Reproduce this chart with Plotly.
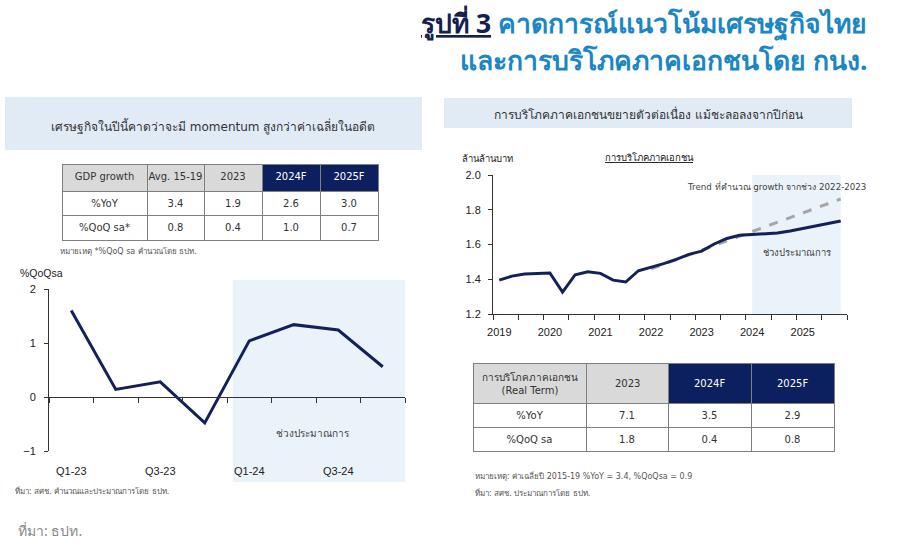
import plotly.graph_objects as go

# ---------------- data ----------------
gdp_quarters = ["Q1-23", "Q2-23", "Q3-23", "Q4-23", "Q1-24", "Q2-24", "Q3-24", "Q4-24"]
gdp_qoq = [1.60, 0.14, 0.28, -0.48, 1.04, 1.34, 1.24, 0.56]
gdp_label_quarters = ["Q1-23", "Q3-23", "Q1-24", "Q3-24"]

pc_quarters = [f"{y}Q{q}" for y in range(2019, 2026) for q in range(1, 5)]
pc_values = [1.395, 1.418, 1.430, 1.432, 1.436, 1.326, 1.426, 1.443,
             1.434, 1.395, 1.384, 1.449, 1.468, 1.490, 1.514, 1.543,
             1.562, 1.603, 1.635, 1.653, 1.658, 1.660, 1.666, 1.678,
             1.693, 1.707, 1.722, 1.735]
trend_quarters = pc_quarters[12:]
trend_values = [1.460, 1.487, 1.513, 1.540, 1.567, 1.594, 1.621, 1.648,
                1.674, 1.700, 1.727, 1.754, 1.781, 1.808, 1.835, 1.862]
year_labels = ["2019", "2020", "2021", "2022", "2023", "2024", "2025"]
forecast_start, forecast_end = "2024Q1", "2025Q4"

NB = "\u00a0"
t1_header = ["GDP" + NB + "growth", "Avg." + NB + "15-19", "2023", "2024F", "2025F"]
t1_rows = ["%YoY", "%QoQ" + NB + "sa*"]
t1_avg = ["3.4", "0.8"]
t1_2023 = ["1.9", "0.4"]
t1_2024 = ["2.6", "1.0"]
t1_2025 = ["3.0", "0.7"]

t2_header = ["การบริโภคภาคเอกชน<br>(Real Term)", "2023", "2024F", "2025F"]
t2_rows = ["%YoY", "%QoQ" + NB + "sa"]
t2_2023 = ["7.1", "1.8"]
t2_2024 = ["3.5", "0.4"]
t2_2025 = ["2.9", "0.8"]

# ---------------- helpers ----------------
W, H = 912, 553
def px(x):
    return x / W
def py(y):
    return (H - y) / H

NAVY = "#13215a"
HDRNAVY = "#0c1f5e"
GRAYHDR = "#d9d9d9"
BLUEBOX = "#e1ebf6"
SHADE = "#eaf2fa"
TXT = "#333333"
FONT = "DejaVu Sans, Tahoma, sans-serif"
AFONT = "Liberation Sans, Arial, sans-serif"
LINEC = "#808080"

fig = go.Figure()

# left chart line
gx = [gdp_quarters.index(q) for q in gdp_quarters]
fig.add_trace(go.Scatter(x=gx, y=gdp_qoq, mode="lines",
                         line=dict(color=NAVY, width=3), xaxis="x", yaxis="y",
                         hoverinfo="skip", showlegend=False))

# right chart
px_idx = [pc_quarters.index(q) for q in pc_quarters]
tx_idx = [pc_quarters.index(q) for q in trend_quarters]
fig.add_trace(go.Scatter(x=tx_idx, y=trend_values, mode="lines",
                         line=dict(color="#a6a6a6", width=3, dash="dash"),
                         xaxis="x2", yaxis="y2", hoverinfo="skip", showlegend=False))
fig.add_trace(go.Scatter(x=px_idx, y=pc_values, mode="lines",
                         line=dict(color=NAVY, width=3), xaxis="x2", yaxis="y2",
                         hoverinfo="skip", showlegend=False))

# tables
t1_x = (62, 378)
t1_cw = [85, 57, 58, 58, 58]
fig.add_trace(go.Table(
    domain=dict(x=[px(t1_x[0]), px(t1_x[1])], y=[py(256), py(164)]),
    columnwidth=t1_cw,
    header=dict(values=t1_header,
                fill_color=[GRAYHDR, GRAYHDR, GRAYHDR, HDRNAVY, HDRNAVY],
                font=dict(family=FONT, size=10, color=[TXT, TXT, TXT, "white", "white"]),
                line=dict(color=LINEC, width=1), height=27, align="center"),
    cells=dict(values=[t1_rows, t1_avg, t1_2023, t1_2024, t1_2025],
               fill_color="white", font=dict(family=FONT, size=10, color=TXT),
               line=dict(color=LINEC, width=1), height=24.5, align="center")))

t2_x = (473, 834)
t2_cw = [113, 82, 83, 83]
t2_top, t2_hh = 363, 40
fig.add_trace(go.Table(
    domain=dict(x=[px(t2_x[0]), px(t2_x[1])], y=[py(465), py(t2_top)]),
    columnwidth=t2_cw,
    header=dict(values=[""] * len(t2_header),
                fill_color=[GRAYHDR, GRAYHDR, HDRNAVY, HDRNAVY],
                line=dict(color=LINEC, width=1), height=t2_hh, align="center"),
    cells=dict(values=[t2_rows, t2_2023, t2_2024, t2_2025],
               fill_color="white", font=dict(family=FONT, size=10, color=TXT),
               line=dict(color=LINEC, width=1), height=24, align="center")))

gtick_vals = [gdp_quarters.index(q) for q in gdp_label_quarters]
ptick_vals = [pc_quarters.index(f"{y}Q1") for y in year_labels]

fig.update_layout(
    width=W, height=H, margin=dict(l=0, r=0, t=0, b=0, pad=0),
    paper_bgcolor="white", plot_bgcolor="rgba(0,0,0,0)",
    font=dict(family=AFONT, color=TXT),
    xaxis=dict(domain=[px(49), px(405)], range=[-0.5, len(gdp_quarters) - 0.5],
               anchor="free", position=py(397), showline=True, linecolor="#333", linewidth=1,
               showgrid=False, zeroline=False, automargin=False,
               tickmode="array", tickvals=gtick_vals, ticktext=gdp_label_quarters,
               ticks="", ticklabelstandoff=64, tickfont=dict(size=11, color="#222", family=AFONT),
               minor=dict(tickmode="array", tickvals=[i - 0.5 for i in range(len(gdp_quarters) + 1)],
                          ticks="outside", ticklen=5, tickcolor="#333", showgrid=False)),
    yaxis=dict(domain=[py(451), py(289)], range=[-1, 2], anchor="x", automargin=False,
               showline=True, linecolor="#333", linewidth=1, showgrid=False, zeroline=False,
               tickvals=[-1, 0, 1, 2], ticks="outside", ticklen=4, tickcolor="#333",
               ticklabelstandoff=6,
               tickfont=dict(size=11, color="#222", family=AFONT)),
    xaxis2=dict(domain=[px(493), px(847)], range=[-0.5, len(pc_quarters) - 0.5], anchor="y2",
                showline=True, linecolor="#333", linewidth=1, showgrid=False, zeroline=False,
                automargin=False,
                tickmode="array", tickvals=ptick_vals, ticktext=year_labels, ticks="",
                ticklabelstandoff=8,
                tickfont=dict(size=11, color="#222", family=AFONT),
                minor=dict(tickmode="array", tickvals=[i - 0.5 for i in range(0, len(pc_quarters) + 1, 2)],
                           ticks="outside", ticklen=5, tickcolor="#333", showgrid=False)),
    yaxis2=dict(domain=[py(314), py(175)], range=[1.2, 2.0], anchor="x2", automargin=False,
                showline=True, linecolor="#333", linewidth=1, showgrid=False, zeroline=False,
                tickvals=[1.2, 1.4, 1.6, 1.8, 2.0], tickformat=".1f", ticks="outside", ticklen=4,
                ticklabelstandoff=5,
                tickcolor="#333", tickfont=dict(size=11, color="#222", family=AFONT)),
)

shapes = [
    dict(type="rect", xref="paper", yref="paper", x0=px(5), x1=px(422), y0=py(150), y1=py(97),
         fillcolor=BLUEBOX, line=dict(width=0), layer="below"),
    dict(type="rect", xref="paper", yref="paper", x0=px(444), x1=px(852), y0=py(128), y1=py(98),
         fillcolor=BLUEBOX, line=dict(width=0), layer="below"),
    dict(type="rect", xref="x", yref="paper", x0=3.63, x1=len(gdp_quarters) - 0.5, y0=py(482), y1=py(280),
         fillcolor=SHADE, line=dict(width=0), layer="below"),
    dict(type="rect", xref="x2", yref="y2", x0=pc_quarters.index(forecast_start),
         x1=pc_quarters.index(forecast_end), y0=1.2, y1=2.0,
         fillcolor=SHADE, line=dict(width=0), layer="below"),
]
fig.update_layout(shapes=shapes)

def ann(text, x, y, size, color=TXT, xanchor="center", family=FONT, **kw):
    fig.add_annotation(text=text, x=px(x), y=py(y), xref="paper", yref="paper",
                       showarrow=False, xanchor=xanchor, yanchor="middle",
                       font=dict(size=size, color=color, family=family), **kw)

# right table header labels, centred in the header cells
tot = sum(t2_cw)
left = t2_x[0]
for lab, cw, col in zip(t2_header, t2_cw, [TXT, TXT, "white", "white"]):
    w = cw / tot * (t2_x[1] - t2_x[0])
    ann(lab, left + w / 2, t2_top + t2_hh / 2, 10, color=col)
    left += w

ann('<b><span style="color:#14214f"><u>รูปที่ 3</u></span> คาดการณ์แนวโน้มเศรษฐกิจไทย</b>',
    869, 24, 26.5, color="#1a86c4", xanchor="right", family="Noto Sans, sans-serif")
ann('<b>และการบริโภคภาคเอกชนโดย กนง.</b>', 869, 60, 26.5, color="#1a86c4", xanchor="right",
    family="Noto Sans, sans-serif")
ann("เศรษฐกิจในปีนี้คาดว่าจะมี momentum สูงกว่าค่าเฉลี่ยในอดีต", 213, 126, 12)
ann("การบริโภคภาคเอกชนขยายตัวต่อเนื่อง แม้ชะลอลงจากปีก่อน", 648, 114, 12)
ann("หมายเหตุ *%QoQ sa คำนวณโดย ธปท.", 58, 251, 8, color="#555", xanchor="left")
ann("%QoQsa", 18, 273, 10.5, color="#222", xanchor="left", family=AFONT)
ann("ช่วงประมาณการ", 313, 433, 10, color="#444")
ann("ที่มา: สศช. คำนวณและประมาณการโดย ธปท.", 13, 490, 8, color="#555", xanchor="left")
ann("ล้านล้านบาท", 460, 158, 9.5, color="#222", xanchor="left")
ann("<u>การบริโภคภาคเอกชน</u>", 649, 157, 9.5, color="#222")
ann("Trend ที่คำนวณ growth จากช่วง 2022-2023", 868, 187, 8.7, color="#444", xanchor="right")
ann("ช่วงประมาณการ", 797, 252, 9.5, color="#444")
ann("หมายเหตุ: ค่าเฉลี่ยปี 2015-19 %YoY = 3.4, %QoQsa = 0.9", 473, 475, 8, color="#555", xanchor="left")
ann("ที่มา: สศช. ประมาณการโดย ธปท.", 473, 492, 8, color="#555", xanchor="left")
ann("ที่มา: ธปท.", 16, 530, 14, color="#888", xanchor="left", family="Noto Sans, sans-serif")

fig.write_html("out.html")
